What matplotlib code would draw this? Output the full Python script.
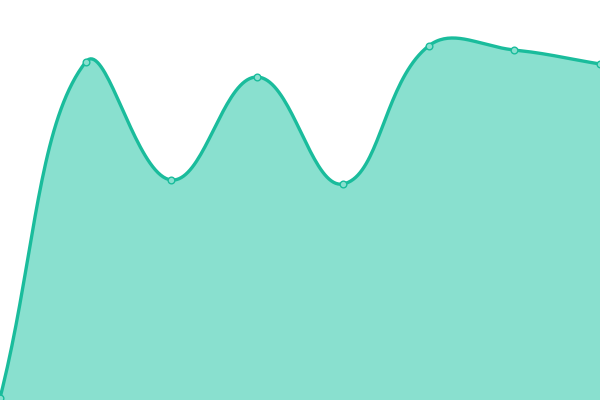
import numpy as np
import matplotlib
matplotlib.use("Agg")
import matplotlib.pyplot as plt

labels = ["A", "B", "C", "D", "E", "F", "G", "H"]
values = [0.5, 84.5, 55, 80.75, 54, 88.5, 87.5, 84]

line_color = "#1abc9c"
fill_color = "#89e0cf"


def spline_points(px, py, tension=0.4, steps=40):
    # chart.js style bezier smoothing, done in pixel space
    n = len(px)
    cps = []
    for i in range(n):
        prev = (px[max(i - 1, 0)], py[max(i - 1, 0)])
        cur = (px[i], py[i])
        nxt = (px[min(i + 1, n - 1)], py[min(i + 1, n - 1)])
        d01 = np.hypot(cur[0] - prev[0], cur[1] - prev[1])
        d12 = np.hypot(nxt[0] - cur[0], nxt[1] - cur[1])
        tot = d01 + d12
        fa = tension * d01 / tot if tot else 0
        fb = tension * d12 / tot if tot else 0
        c1 = (cur[0] - fa * (nxt[0] - prev[0]), cur[1] - fa * (nxt[1] - prev[1]))
        c2 = (cur[0] + fb * (nxt[0] - prev[0]), cur[1] + fb * (nxt[1] - prev[1]))
        cps.append((c1, c2))
    xs, ys = [px[0]], [py[0]]
    t = np.linspace(0, 1, steps)[1:]
    for i in range(n - 1):
        p0 = np.array([px[i], py[i]])
        p1 = np.array(cps[i][1])
        p2 = np.array(cps[i + 1][0])
        p3 = np.array([px[i + 1], py[i + 1]])
        for tt in t:
            b = ((1 - tt) ** 3) * p0 + 3 * ((1 - tt) ** 2) * tt * p1 + 3 * (1 - tt) * tt ** 2 * p2 + tt ** 3 * p3
            xs.append(b[0])
            ys.append(b[1])
    return np.array(xs), np.array(ys)


fig = plt.figure(figsize=(6, 4), dpi=100)
ax = fig.add_axes([0, 0, 1, 1])
ax.set_xlim(0, len(values) - 1)
ax.set_ylim(0, 100)
ax.axis("off")

x = np.arange(len(values))
disp = ax.transData.transform(np.column_stack([x, values]))
sx, sy = spline_points(disp[:, 0], disp[:, 1])
curve = ax.transData.inverted().transform(np.column_stack([sx, sy]))

ax.fill_between(curve[:, 0], curve[:, 1], 0, color=fill_color, lw=0)
ax.plot(curve[:, 0], curve[:, 1], color=line_color, lw=2.4, solid_capstyle="round")
ax.plot(x, values, "o", ms=4.8, mfc=fill_color, mec=line_color, mew=1, clip_on=False)

fig.savefig("out.png", dpi=100)
